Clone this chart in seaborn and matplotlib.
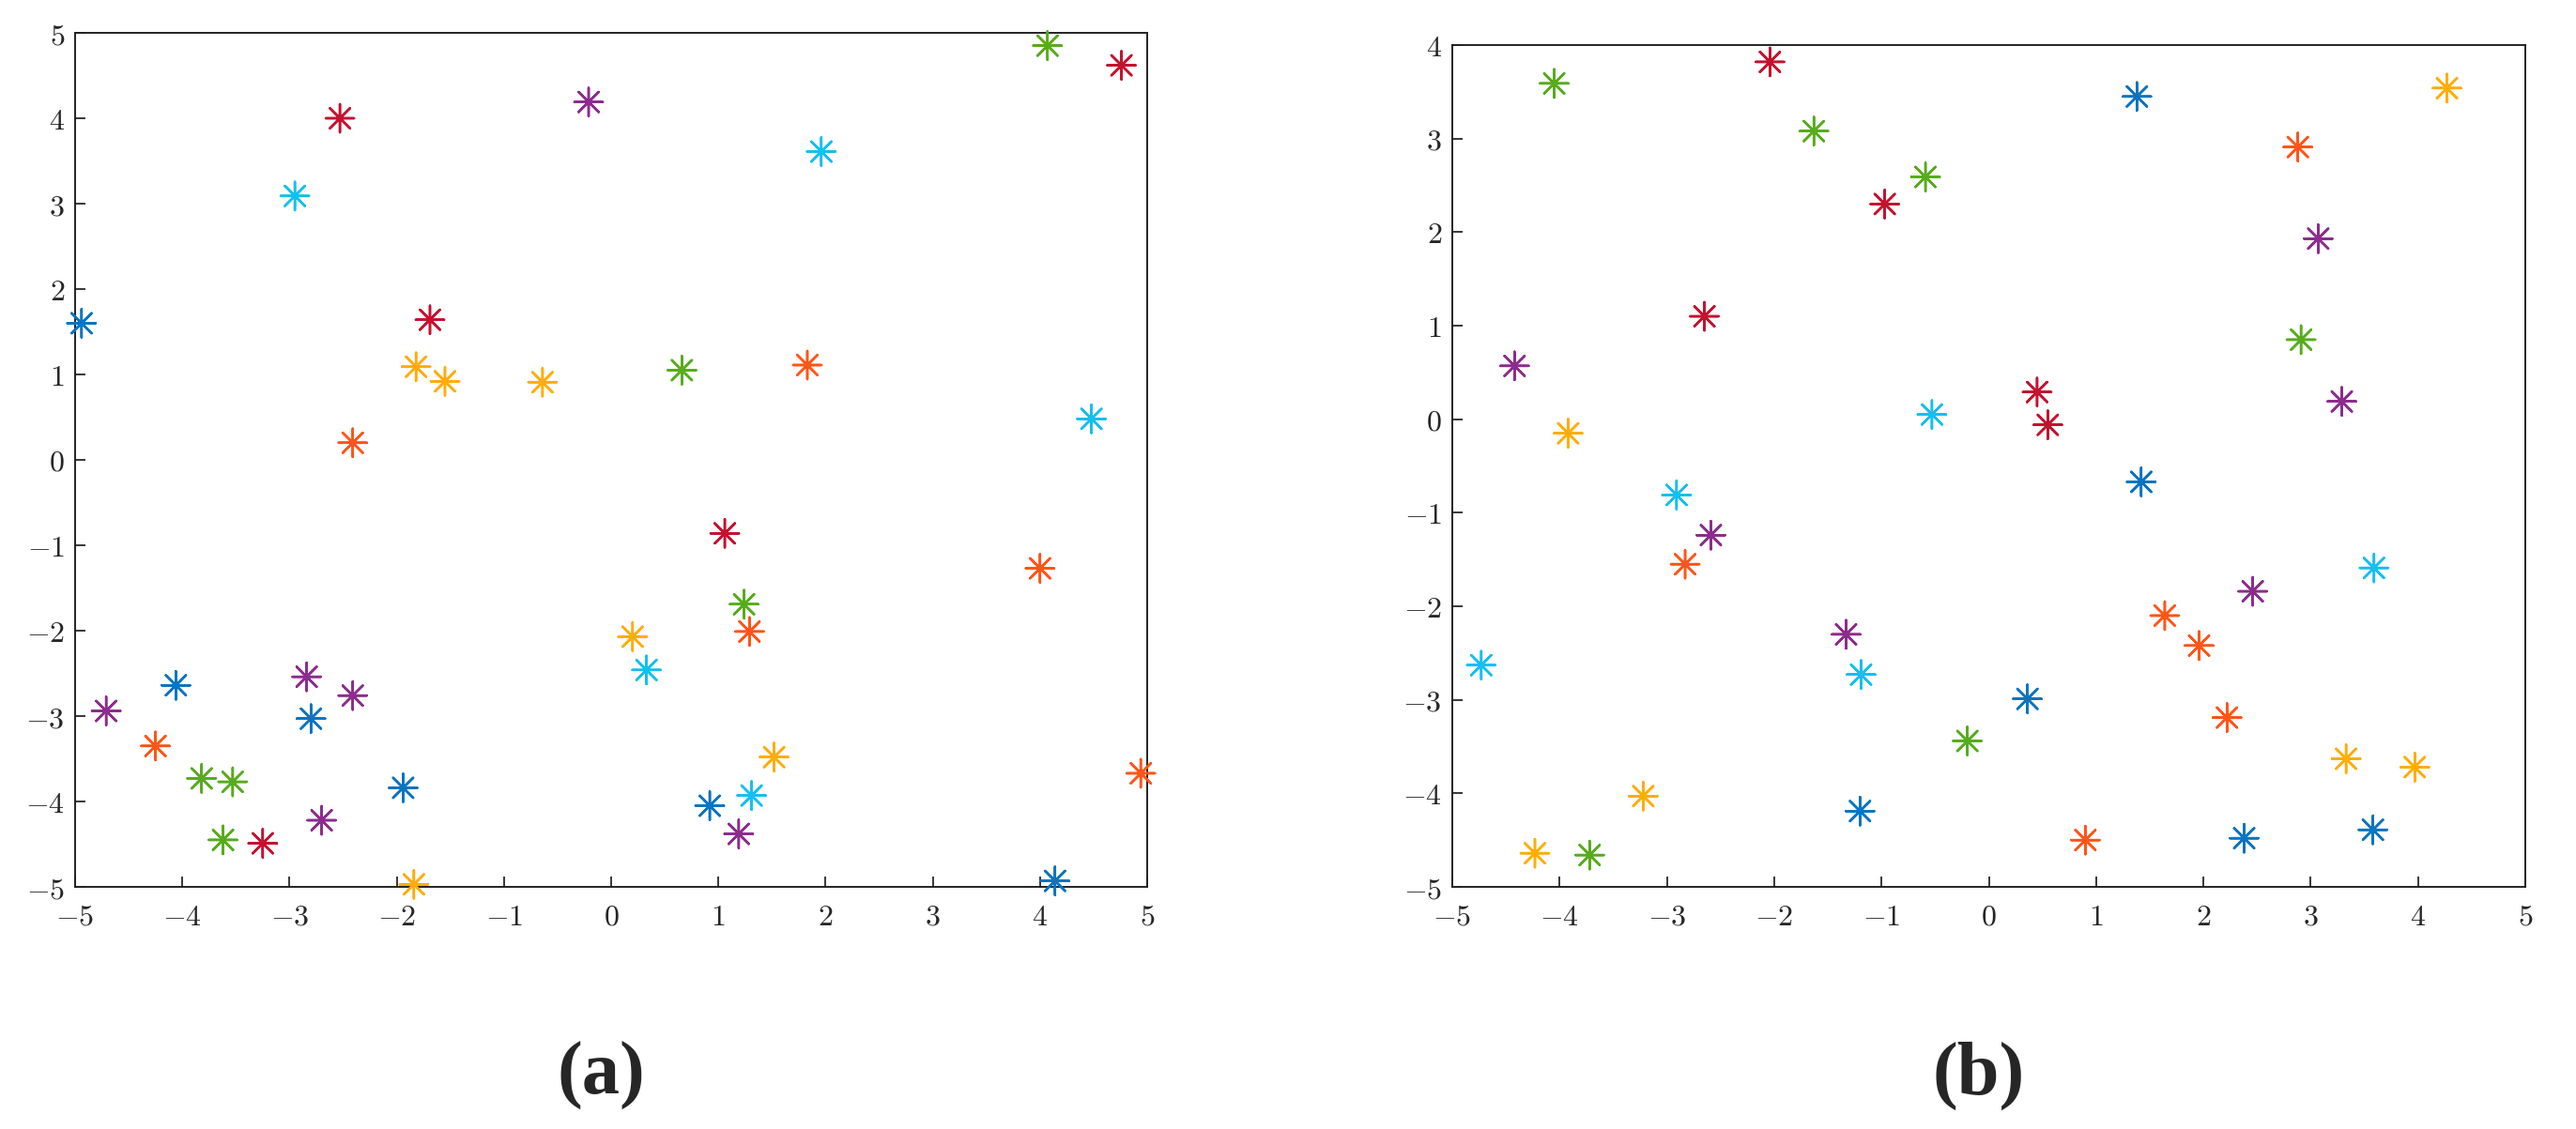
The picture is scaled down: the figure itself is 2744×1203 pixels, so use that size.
import matplotlib
matplotlib.use('Agg')
import matplotlib.pyplot as plt
from matplotlib.ticker import FuncFormatter, MultipleLocator
import seaborn as sns
import pandas as pd

# colour groups used in both panels
GROUPS = ['blue', 'cyan', 'red', 'purple', 'amber', 'orange', 'green']
COLORS = ['#0A74BF', '#16BFEE', '#C4122F', '#8C2C8E', '#FFAD0A', '#FF5518', '#57AC1C']

# panel (a)
A_X = [-4.94, -4.06, -2.80, -1.94, 0.92, 4.14,
       -2.95, 1.96, 4.48, 0.33, 1.31,
       -2.53, -1.69, 4.76, 1.06, -3.25,
       -0.21, -2.84, -2.41, -4.71, -2.70, 1.19,
       -1.82, -1.55, -0.64, 0.20, -1.84, 1.52,
       -2.41, 1.83, 4.00, 1.29, -4.25, 4.94,
       4.07, 0.66, -3.82, -3.53, -3.62, 1.24]
A_Y = [1.60, -2.64, -3.03, -3.84, -4.05, -4.93,
       3.09, 3.61, 0.48, -2.46, -3.93,
       4.00, 1.64, 4.62, -0.86, -4.49,
       4.19, -2.54, -2.76, -2.94, -4.22, -4.38,
       1.09, 0.92, 0.91, -2.07, -4.97, -3.48,
       0.20, 1.11, -1.27, -2.01, -3.35, -3.67,
       4.85, 1.05, -3.73, -3.77, -4.45, -1.69]
A_GROUP = (['blue'] * 6 + ['cyan'] * 5 + ['red'] * 5 + ['purple'] * 6
           + ['amber'] * 6 + ['orange'] * 6 + ['green'] * 6)

# panel (b)
B_X = [1.38, 1.42, 0.36, -1.20, 2.38, 3.58,
       -0.53, -2.91, -4.73, -1.19, 3.59,
       -2.04, -0.97, -2.65, 0.45, 0.55,
       -4.42, 3.07, 3.29, -2.59, -1.33, 2.46,
       -3.92, 4.27, -3.22, -4.23, 3.33, 3.97,
       2.88, -2.83, 1.64, 1.96, 2.22, 0.90,
       -4.05, -1.63, -0.59, 2.91, -0.20, -3.72]
B_Y = [3.45, -0.67, -2.99, -4.19, -4.48, -4.39,
       0.05, -0.81, -2.63, -2.73, -1.59,
       3.82, 2.30, 1.10, 0.29, -0.06,
       0.57, 1.93, 0.19, -1.24, -2.30, -1.84,
       -0.15, 3.54, -4.03, -4.64, -3.63, -3.72,
       2.91, -1.55, -2.10, -2.42, -3.19, -4.50,
       3.59, 3.08, 2.59, 0.85, -3.44, -4.66]
B_GROUP = A_GROUP

PANEL_LABELS = ['(a)', '(b)']
X_LIMITS = [(-5, 5), (-5, 5)]
Y_LIMITS = [(-5, 5), (-5, 4)]

sns.set_style('ticks')
plt.rcParams['font.family'] = ['DejaVu Serif']
plt.rcParams['mathtext.fontset'] = 'cm'

fig = plt.figure(figsize=(27.44, 12.03), dpi=100)
W, H = 2744, 1203
boxes = [(80, 1222, 35, 945), (1547, 2690, 48, 945)]

palette = dict(zip(GROUPS, COLORS))
frames = [pd.DataFrame({'x': A_X, 'y': A_Y, 'group': A_GROUP}),
          pd.DataFrame({'x': B_X, 'y': B_Y, 'group': B_GROUP})]

fmt = FuncFormatter(lambda v, p: f'${v:.0f}$')

for i, df in enumerate(frames):
    l, r, t, b = boxes[i]
    ax = fig.add_axes([l / W, 1 - b / H, (r - l) / W, (b - t) / H])
    sns.scatterplot(data=df, x='x', y='y', hue='group', palette=palette,
                    marker=(8, 2, 0), s=470, linewidth=1.8, legend=False,
                    clip_on=False, zorder=3, ax=ax)
    ax.set_xlim(*X_LIMITS[i])
    ax.set_ylim(*Y_LIMITS[i])
    ax.xaxis.set_major_locator(MultipleLocator(1))
    ax.yaxis.set_major_locator(MultipleLocator(1))
    ax.xaxis.set_major_formatter(fmt)
    ax.yaxis.set_major_formatter(fmt)
    ax.tick_params(axis='both', direction='in', length=8, width=1.3,
                   labelsize=23, top=False, right=False)
    ax.tick_params(axis='x', pad=12)
    ax.tick_params(axis='y', pad=8)
    ax.set_xlabel('')
    ax.set_ylabel('')
    for sp in ax.spines.values():
        sp.set_visible(True)
        sp.set_linewidth(1.4)
        sp.set_color('#222222')
    fig.text((l + r) / 2 / W - 0.004, 0.047, PANEL_LABELS[i], ha='center', va='center',
             fontsize=58, fontweight='bold', family=['Liberation Serif', 'DejaVu Serif'])

fig.savefig('out.png', dpi=100, facecolor='white')
